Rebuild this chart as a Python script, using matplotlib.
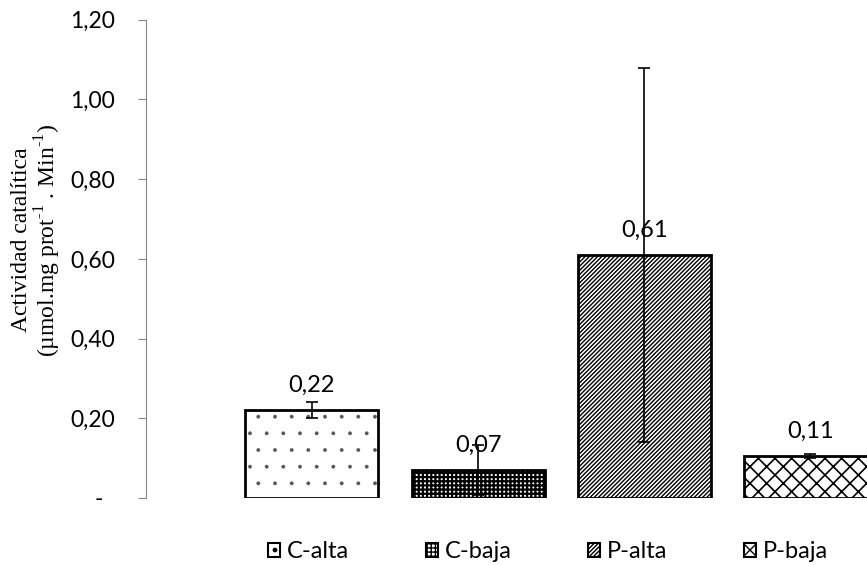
import matplotlib
matplotlib.use("Agg")
import matplotlib.pyplot as plt
import numpy as np

plt.rcParams['mathtext.fontset'] = 'custom'
plt.rcParams['mathtext.rm'] = 'Liberation Serif'

groups = ['C-alta', 'C-baja', 'P-alta', 'P-baja']
values = [0.22, 0.07, 0.61, 0.105]
errors = [0.02, 0.063, 0.47, 0.005]
labels = ['0,22', '0,07', '0,61', '0,11']
yticks = [0, 0.2, 0.4, 0.6, 0.8, 1.0, 1.2]
yticklabels = ['-  ', '0,20', '0,40', '0,60', '0,80', '1,00', '1,20']

# pattern per bar: (face, hatch, hatch colour, hatch linewidth)
styles = [('white', '.', '#555555', 0.3),
          ('white', '++++', 'black', 1.6),
          ('white', '////////', 'black', 1.0),
          ('white', 'xx', 'black', 1.2)]

fig = plt.figure(figsize=(8.67, 5.65), dpi=100)
ax = fig.add_axes([0.168, 0.1186, 0.832, 0.8465])

x = np.arange(len(groups))
handles = []
for i in range(len(groups)):
    face, hatch, hcol, hlw = styles[i]
    with plt.rc_context({'hatch.linewidth': hlw}):
        ax.bar(x[i], values[i], 0.8, color=face, hatch=hatch, edgecolor=hcol,
               linewidth=0, zorder=2)
        h = plt.Rectangle((0, 0), 1, 1, facecolor=face, hatch=hatch,
                          edgecolor='black', linewidth=1.5)
    ax.bar(x[i], values[i], 0.8, fill=False, edgecolor='black',
           linewidth=2, zorder=3)
    ax.errorbar(x[i], values[i], yerr=errors[i], fmt='none', ecolor='black',
                elinewidth=1.2, capsize=4, capthick=1.2, zorder=4)
    ax.annotate(labels[i], (x[i], values[i]), xytext=(0, 13),
                textcoords='offset points', ha='center', va='baseline',
                fontsize=17, family='Lato', zorder=5)
    handles.append(h)

ax.set_xlim(-1, 3.34)
ax.set_ylim(0, 1.2)
ax.set_yticks(yticks)
ax.set_yticklabels(yticklabels, fontsize=16.5, family='Lato')
ax.set_xticks([])
for s in ['top', 'right', 'bottom']:
    ax.spines[s].set_visible(False)
ax.spines['left'].set_color('#888888')
ax.tick_params(axis='y', color='#888888', length=6, pad=16)

fig.text(37 / 867, 1 - 240 / 565,
         'Actividad catalítica\n(µmol.mg prot$^{\\text{-1}}$ . Min$^{\\text{-1}}$)',
         family='Liberation Serif', fontsize=17,
         rotation=90, ha='center', va='center', multialignment='center',
         linespacing=1.0)

leg = fig.legend(handles, groups, loc='center left', ncol=4,
                 bbox_to_anchor=(268 / 867, 1 - 552 / 565), frameon=False,
                 prop={'family': 'Lato', 'size': 17}, borderpad=0,
                 borderaxespad=0,
                 handlelength=0.5, handleheight=0.5, handletextpad=0.3,
                 columnspacing=3.25)

fig.savefig('out.png', dpi=100)
